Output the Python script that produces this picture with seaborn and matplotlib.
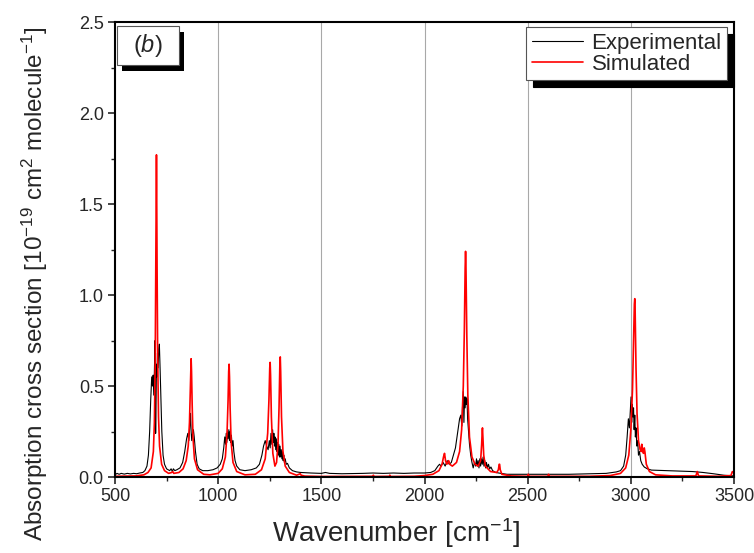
import numpy as np
import pandas as pd
import matplotlib
matplotlib.use('Agg')
import matplotlib.pyplot as plt
import matplotlib.patheffects as pe
from matplotlib.patches import Rectangle
from matplotlib.ticker import MultipleLocator
import seaborn as sns

# Experimental spectrum
exp_wn = [500, 510, 520, 530, 545, 560, 575, 590, 605, 620, 635, 645, 655, 662, 668, 673, 678, 682, 685, 688,
          691, 694, 696, 697, 699, 701, 703, 706, 709, 712, 715, 718, 722, 727, 733, 740, 750, 765, 772, 778,
          783, 790, 800, 815, 828, 838, 847, 853, 858, 862, 866, 869, 872, 876, 880, 884, 890, 898, 908, 925,
          950, 975, 995, 1010, 1020, 1027, 1032, 1036, 1039, 1042, 1045, 1048, 1052, 1055, 1058, 1061, 1064, 1068, 1072, 1076,
          1082, 1090, 1105, 1130, 1160, 1185, 1200, 1212, 1220, 1228, 1235, 1242, 1248, 1252, 1256, 1260, 1264, 1267, 1270, 1273,
          1276, 1279, 1282, 1285, 1288, 1291, 1294, 1297, 1300, 1303, 1306, 1309, 1312, 1315, 1318, 1321, 1325, 1330, 1336, 1345,
          1360, 1380, 1400, 1450, 1500, 1520, 1540, 1600, 1700, 1750, 1800, 1850, 1900, 1950, 2000, 2030, 2050, 2065, 2073, 2080,
          2090, 2100, 2110, 2120, 2130, 2140, 2150, 2160, 2170, 2176, 2181, 2184, 2188, 2191, 2194, 2197, 2200, 2203, 2206, 2209,
          2213, 2218, 2224, 2230, 2236, 2242, 2248, 2252, 2256, 2260, 2264, 2268, 2272, 2276, 2280, 2284, 2288, 2292, 2296, 2300,
          2305, 2310, 2316, 2322, 2330, 2345, 2370, 2400, 2500, 2600, 2700, 2800, 2880, 2910, 2930, 2950, 2965, 2975, 2982, 2988,
          2993, 2997, 3001, 3004, 3007, 3010, 3013, 3016, 3019, 3022, 3025, 3029, 3033, 3037, 3042, 3048, 3055, 3065, 3080, 3100,
          3200, 3300, 3350, 3400, 3450, 3500]
exp_val = [0.012, 0.02, 0.015, 0.02, 0.016, 0.02, 0.017, 0.02, 0.018, 0.022, 0.025, 0.035, 0.06, 0.12, 0.25, 0.42, 0.55, 0.50, 0.56, 0.45,
           0.58, 0.75, 0.45, 0.24, 0.40, 0.62, 0.55, 0.68, 0.60, 0.70, 0.73, 0.62, 0.45, 0.25, 0.12, 0.07, 0.045, 0.035, 0.045, 0.03,
           0.045, 0.035, 0.04, 0.05, 0.08, 0.14, 0.21, 0.24, 0.20, 0.28, 0.35, 0.25, 0.20, 0.24, 0.26, 0.22, 0.14, 0.07, 0.045, 0.035,
           0.035, 0.04, 0.05, 0.07, 0.10, 0.16, 0.22, 0.18, 0.24, 0.19, 0.25, 0.21, 0.26, 0.20, 0.25, 0.19, 0.23, 0.17, 0.20, 0.14,
           0.09, 0.06, 0.04, 0.035, 0.04, 0.05, 0.07, 0.12, 0.17, 0.20, 0.17, 0.15, 0.20, 0.16, 0.24, 0.18, 0.26, 0.19, 0.24, 0.17,
           0.22, 0.15, 0.21, 0.14, 0.19, 0.12, 0.18, 0.11, 0.17, 0.11, 0.15, 0.10, 0.14, 0.09, 0.12, 0.08, 0.10, 0.07, 0.075, 0.05,
           0.035, 0.028, 0.025, 0.022, 0.02, 0.025, 0.02, 0.018, 0.02, 0.022, 0.02, 0.022, 0.02, 0.022, 0.022, 0.025, 0.035, 0.06, 0.07, 0.06,
           0.08, 0.06, 0.09, 0.07, 0.08, 0.12, 0.16, 0.24, 0.32, 0.34, 0.28, 0.38, 0.47, 0.30, 0.44, 0.38, 0.44, 0.40, 0.43, 0.32,
           0.26, 0.18, 0.12, 0.08, 0.05, 0.08, 0.06, 0.10, 0.06, 0.09, 0.05, 0.10, 0.06, 0.10, 0.07, 0.11, 0.06, 0.09, 0.05, 0.08,
           0.05, 0.07, 0.045, 0.055, 0.035, 0.025, 0.02, 0.015, 0.015, 0.015, 0.015, 0.018, 0.02, 0.025, 0.028, 0.035, 0.06, 0.12, 0.22, 0.32,
           0.27, 0.35, 0.44, 0.30, 0.40, 0.33, 0.38, 0.26, 0.34, 0.22, 0.27, 0.17, 0.20, 0.12, 0.14, 0.09, 0.07, 0.055, 0.045, 0.038,
           0.034, 0.03, 0.025, 0.018, 0.01, 0.006]

# Simulated spectrum
sim_wn = [500, 600, 640, 660, 675, 686, 691, 695, 698, 700, 701, 702, 704, 707, 711, 716, 726, 740, 760, 775,
          780, 785, 810, 830, 845, 855, 861, 865, 868, 869, 871, 874, 878, 885, 900, 930, 960, 1000, 1020, 1035,
          1043, 1048, 1051, 1053, 1055, 1058, 1063, 1072, 1090, 1130, 1180, 1210, 1228, 1240, 1246, 1250, 1252, 1254, 1258, 1265,
          1275, 1283, 1290, 1295, 1299, 1301, 1303, 1307, 1314, 1325, 1345, 1380, 1398, 1402, 1420, 1500, 1750, 1752, 1756, 1830,
          1832, 1836, 1950, 2000, 2040, 2070, 2085, 2092, 2097, 2102, 2108, 2113, 2117, 2122, 2135, 2155, 2170, 2180, 2188, 2193,
          2197, 2199, 2201, 2205, 2210, 2218, 2230, 2245, 2260, 2272, 2277, 2280, 2281, 2283, 2287, 2295, 2320, 2350, 2358, 2362,
          2364, 2367, 2375, 2420, 2500, 2503, 2507, 2598, 2601, 2605, 2800, 2900, 2950, 2975, 2990, 3000, 3008, 3013, 3017, 3019,
          3021, 3025, 3030, 3037, 3045, 3050, 3053, 3057, 3061, 3065, 3068, 3075, 3090, 3120, 3200, 3315, 3322, 3328, 3420, 3485,
          3492, 3500]
sim_val = [0.004, 0.006, 0.012, 0.025, 0.05, 0.14, 0.30, 0.65, 1.20, 1.60, 1.77, 1.60, 1.15, 0.65, 0.33, 0.17, 0.07, 0.035, 0.02, 0.025,
           0.03, 0.02, 0.025, 0.045, 0.09, 0.17, 0.30, 0.48, 0.63, 0.65, 0.58, 0.40, 0.22, 0.10, 0.04, 0.015, 0.012, 0.02, 0.045, 0.11,
           0.24, 0.42, 0.58, 0.62, 0.55, 0.38, 0.19, 0.08, 0.03, 0.012, 0.015, 0.04, 0.10, 0.24, 0.42, 0.60, 0.63, 0.56, 0.33, 0.13,
           0.06, 0.08, 0.18, 0.38, 0.62, 0.66, 0.58, 0.33, 0.14, 0.06, 0.025, 0.01, 0.018, 0.01, 0.005, 0.003, 0.004, 0.01, 0.003, 0.004,
           0.01, 0.003, 0.004, 0.008, 0.015, 0.035, 0.07, 0.11, 0.13, 0.09, 0.07, 0.08, 0.09, 0.07, 0.06, 0.08, 0.14, 0.26, 0.50, 0.80,
           1.15, 1.24, 1.15, 0.78, 0.45, 0.22, 0.11, 0.07, 0.06, 0.09, 0.18, 0.26, 0.27, 0.22, 0.12, 0.06, 0.03, 0.025, 0.04, 0.07,
           0.07, 0.04, 0.015, 0.006, 0.004, 0.015, 0.004, 0.004, 0.015, 0.004, 0.004, 0.008, 0.02, 0.05, 0.12, 0.26, 0.48, 0.75, 0.95, 0.98,
           0.90, 0.60, 0.35, 0.20, 0.15, 0.14, 0.18, 0.15, 0.13, 0.16, 0.14, 0.07, 0.03, 0.012, 0.006, 0.006, 0.03, 0.006, 0.004, 0.008,
           0.03, 0.02]

x_ticks = [500, 1000, 1500, 2000, 2500, 3000, 3500]
y_ticks = [0.0, 0.5, 1.0, 1.5, 2.0, 2.5]

sns.set_theme(style='ticks')
plt.rcParams['font.family'] = ['Liberation Sans', 'DejaVu Sans']
plt.rcParams['mathtext.fontset'] = 'custom'
plt.rcParams['mathtext.rm'] = 'Liberation Sans'
plt.rcParams['mathtext.it'] = 'Liberation Sans:italic'

df_exp = pd.DataFrame({'wn': exp_wn, 'val': exp_val})
df_sim = pd.DataFrame({'wn': sim_wn, 'val': sim_val})

fig = plt.figure(figsize=(7.54, 5.53), dpi=100)
ax = fig.add_axes([0.1525, 0.1374, 0.8210, 0.8228])

for xt in x_ticks[1:-1]:
    ax.axvline(xt, color='#a8a8a8', lw=0.8, zorder=0)

sns.lineplot(data=df_exp, x='wn', y='val', ax=ax, color='black', lw=0.8,
             sort=False, estimator=None, label='Experimental')
sns.lineplot(data=df_sim, x='wn', y='val', ax=ax, color='red', lw=1.2,
             sort=False, estimator=None, label='Simulated')

ax.set_xlim(500, 3500)
ax.set_ylim(0, 2.5)
ax.set_xticks(x_ticks)
ax.set_yticks(y_ticks)
ax.set_xticklabels([str(t) for t in x_ticks])
ax.set_yticklabels(['%.1f' % t for t in y_ticks])
ax.xaxis.set_minor_locator(MultipleLocator(250))
ax.yaxis.set_minor_locator(MultipleLocator(0.25))
ax.tick_params(which='major', direction='out', length=5, width=1.2, labelsize=13, pad=3)
ax.tick_params(which='minor', direction='out', length=3, width=1.0)
for s in ax.spines.values():
    s.set_linewidth(1.5)
    s.set_color('black')

ax.set_xlabel('Wavenumber [cm$^{-1}$]', fontsize=20)
ax.xaxis.set_label_coords(0.454, -0.086)
ax.set_ylabel('Absorption cross section [10$^{-19}$ cm$^{2}$ molecule$^{-1}$]', fontsize=17.5)
ax.yaxis.set_label_coords(-0.105, 0.425)

leg = ax.legend(loc='upper right', bbox_to_anchor=(0.989, 0.989), borderaxespad=0,
                fontsize=16, frameon=True, fancybox=False, handlelength=2.3,
                labelspacing=0.0, borderpad=0.25, handletextpad=0.4,
                shadow={'color': 'black', 'alpha': 1, 'ox': 5, 'oy': -5})
leg.get_frame().set_edgecolor('#555555')
leg.get_frame().set_linewidth(0.8)
leg.get_frame().set_alpha(1)

# panel label box with hard shadow
box = Rectangle((0.003, 0.905), 0.1, 0.086, transform=ax.transAxes, fc='white',
                ec='#555555', lw=0.8, zorder=5,
                path_effects=[pe.SimplePatchShadow(offset=(4, -4), shadow_rgbFace='black', alpha=1), pe.Normal()])
ax.add_patch(box)
ax.text(0.053, 0.948, '($\\mathit{b}$)', transform=ax.transAxes, fontsize=17,
        ha='center', va='center', zorder=6)

fig.savefig('out.png', dpi=100)
